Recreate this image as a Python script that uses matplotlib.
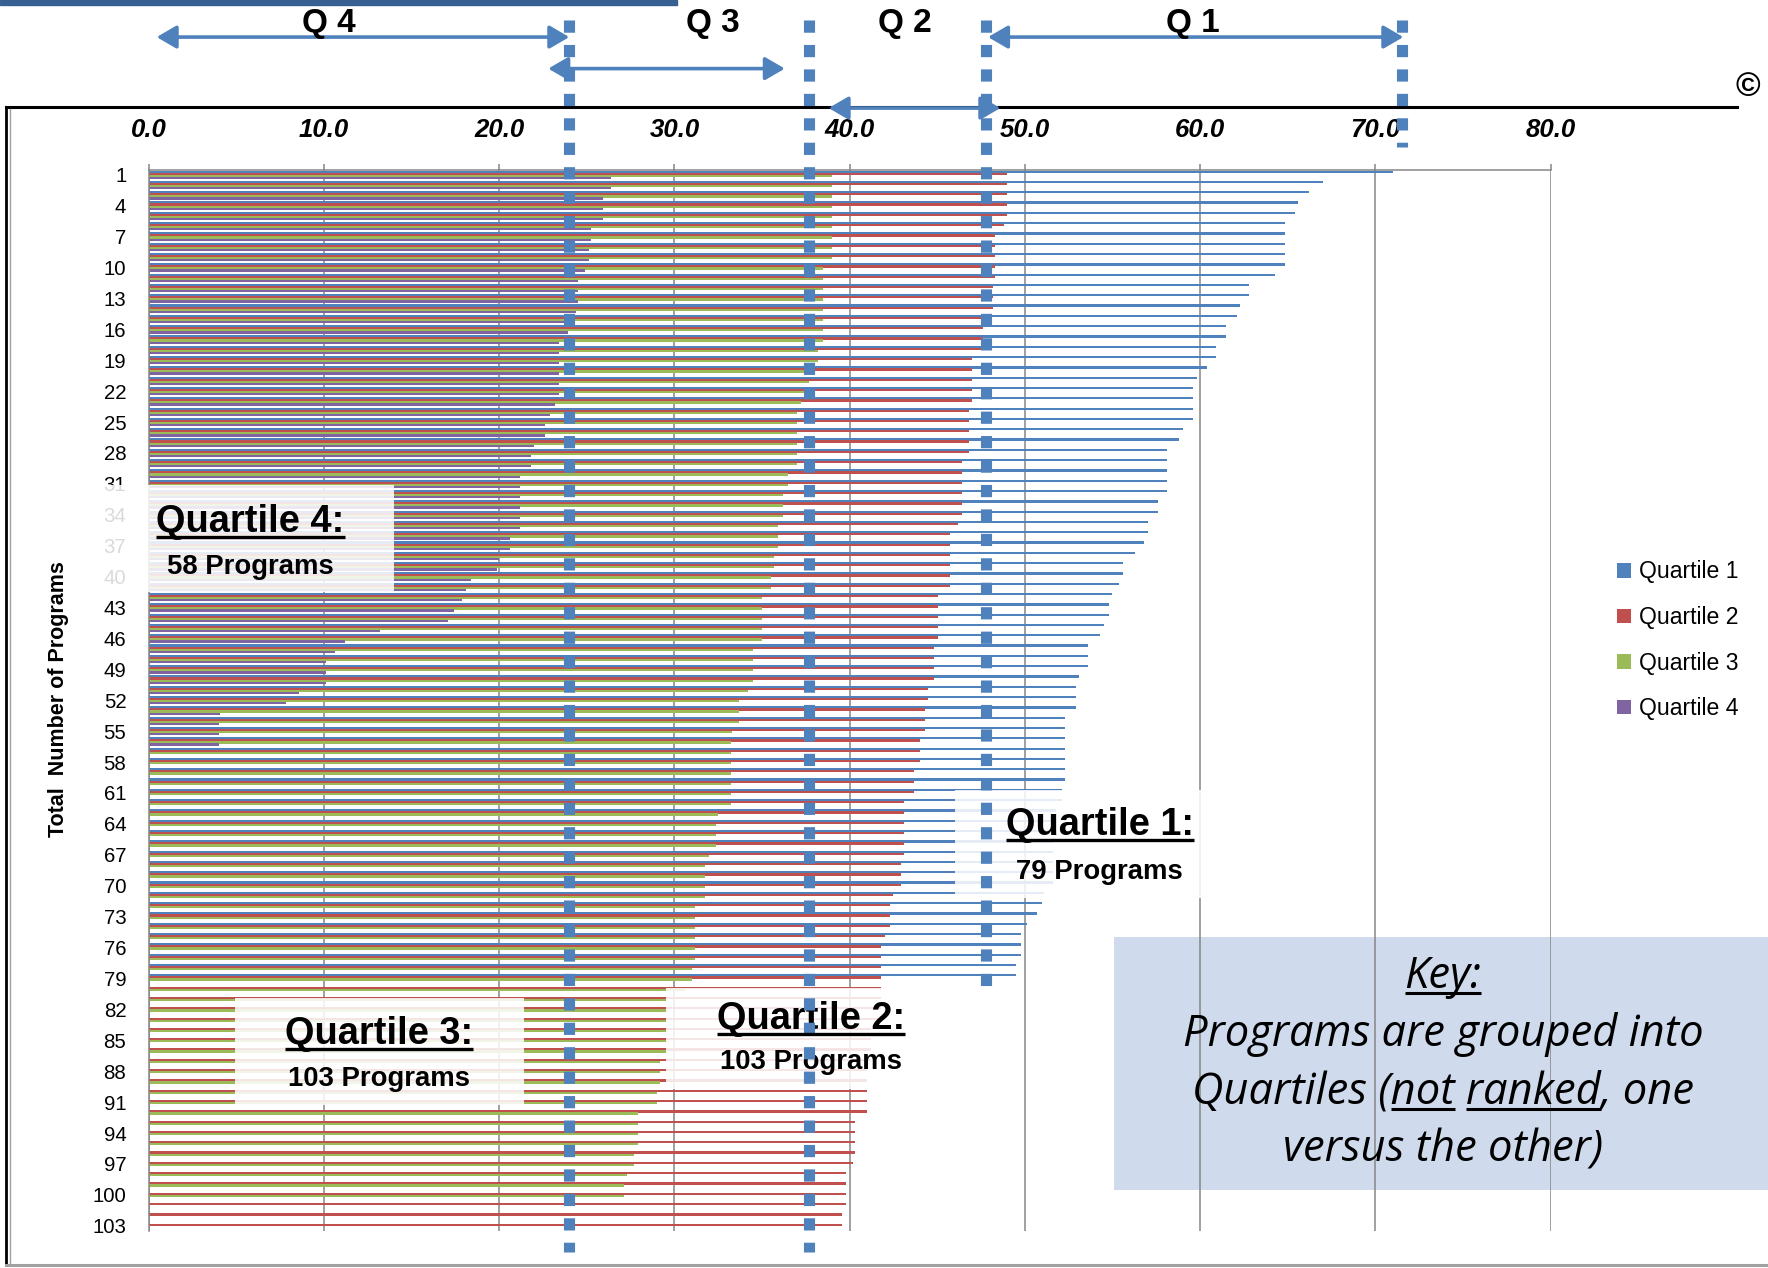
import numpy as np
import matplotlib
matplotlib.use("Agg")
import matplotlib.pyplot as plt
from matplotlib.patches import Rectangle, Patch
from matplotlib.lines import Line2D

plt.rcParams["font.family"] = ["Liberation Sans", "DejaVu Sans"]

# values, one entry per program, sorted high -> low
q1 = [71.0, 67.0, 66.2, 65.6, 65.4, 64.85, 64.85, 64.85, 64.85, 64.85,
      64.3, 62.8, 62.8, 62.3, 62.1, 61.5, 61.5, 60.9, 60.9, 60.4,
      59.8, 59.6, 59.6, 59.6, 59.6, 59.0, 58.8, 58.1, 58.1, 58.1,
      58.1, 58.1, 57.6, 57.6, 57.0, 57.0, 56.8, 56.3, 55.6, 55.6,
      55.4, 55.0, 54.8, 54.8, 54.5, 54.3, 53.6, 53.6, 53.6, 53.1,
      52.9, 52.9, 52.9, 52.3, 52.3, 52.3, 52.3, 52.3, 52.3, 52.3,
      52.1, 52.1, 51.8, 51.6, 51.6, 51.6, 51.6, 51.6, 51.6, 51.6,
      51.1, 51.0, 50.7, 50.1, 49.8, 49.8, 49.8, 49.5, 49.5]
q2 = [49.0, 49.0, 49.0, 49.0, 49.0, 48.8, 48.3, 48.3, 48.3, 48.3,
      48.3, 48.2, 48.2, 48.2, 47.8, 47.6, 47.6, 47.6, 47.0, 47.0,
      47.0, 47.0, 47.0, 46.8, 46.8, 46.8, 46.8, 46.8, 46.4, 46.4,
      46.4, 46.4, 46.4, 46.4, 46.2, 45.7, 45.7, 45.7, 45.7, 45.7,
      45.7, 45.05, 45.05, 45.05, 45.05, 45.05, 44.8, 44.8, 44.8, 44.8,
      44.5, 44.5, 44.3, 44.3, 44.3, 44.0, 44.0, 44.0, 43.7, 43.7,
      43.7, 43.1, 43.1, 43.1, 43.1, 43.1, 43.1, 42.95, 42.95, 42.95,
      42.5, 42.3, 42.3, 42.3, 42.0, 41.8, 41.8, 41.8, 41.8, 41.8,
      41.8, 41.8, 41.7, 41.2, 41.2, 41.2, 41.2, 41.0, 41.0, 41.0,
      41.0, 41.0, 40.3, 40.3, 40.3, 40.3, 40.2, 39.8, 39.8, 39.8,
      39.8, 39.55, 39.55]
q3 = [39.0, 39.0, 39.0, 39.0, 39.0, 39.0, 39.0, 39.0, 39.0, 38.5,
      38.5, 38.5, 38.5, 38.5, 38.5, 38.5, 38.5, 38.2, 38.2, 37.7,
      37.7, 37.7, 37.2, 37.0, 37.0, 37.0, 37.0, 37.0, 37.0, 36.5,
      36.5, 36.2, 36.2, 36.2, 35.9, 35.9, 35.9, 35.7, 35.7, 35.5,
      35.5, 35.0, 35.0, 35.0, 35.0, 35.0, 34.5, 34.5, 34.5, 34.5,
      34.2, 33.7, 33.7, 33.7, 33.3, 33.2, 33.2, 33.2, 33.2, 33.2,
      33.2, 33.2, 32.5, 32.4, 32.4, 32.4, 32.0, 31.75, 31.75, 31.75,
      31.75, 31.2, 31.2, 31.2, 31.2, 31.2, 31.2, 31.0, 31.0, 30.6,
      29.6, 29.6, 29.6, 29.6, 29.6, 29.6, 29.2, 29.2, 29.2, 29.0,
      29.0, 27.9, 27.9, 27.9, 27.9, 27.7, 27.7, 27.3, 27.1, 27.1]
q4 = [26.4, 26.4, 25.9, 25.9, 25.9, 25.25, 25.25, 25.1, 25.1, 24.9,
      24.5, 24.5, 24.5, 24.4, 23.9, 23.9, 23.4, 23.4, 23.4, 23.4,
      23.4, 23.4, 23.2, 22.9, 22.6, 22.6, 22.0, 21.8, 21.8, 21.2,
      21.2, 21.2, 21.2, 21.2, 21.2, 20.6, 20.6, 20.0, 19.9, 18.4,
      18.1, 17.9, 17.4, 17.1, 13.2, 11.2, 10.6, 10.1, 10.1, 10.1,
      8.6, 7.85, 4.05, 4.0, 4.0, 4.0]

series_names = ["Quartile 1", "Quartile 2", "Quartile 3", "Quartile 4"]
colors = ["#4F81BD", "#C0504D", "#9BBB59", "#8064A2"]
n_rows = 103
x_ticks = [0, 10, 20, 30, 40, 50, 60, 70, 80]

# quartile cut lines and the arrows above the chart
cut_x = [24.0, 37.7, 47.8, 71.5]
arrow_labels = ["Q 4", "Q 3", "Q 2", "Q 1"]
arrow_from = [0.45, 22.8, 38.8, 47.9]
arrow_to = [24.0, 36.3, 48.6, 71.6]
label_x = [10.25, 32.2, 43.15, 59.6]

notes = [("Quartile 4:", "58 Programs"), ("Quartile 1:", "79 Programs"),
         ("Quartile 3:", "103 Programs"), ("Quartile 2:", "103 Programs")]

BLUE = "#4F81BD"
GRID = "#868686"

fig = plt.figure(figsize=(17.68, 12.68), dpi=100)
ax = fig.add_axes([0.08416, 0.02926, 0.79282, 0.8370])
ax.set_facecolor("white")

offsets = [-0.3, -0.1, 0.1, 0.3]
for vals, col, name, off in zip([q1, q2, q3, q4], colors, series_names, offsets):
    y = np.arange(1, len(vals) + 1) + off
    ax.barh(y, vals, height=0.22, color=col, label=name, zorder=2, linewidth=0)

ax.set_xlim(0, 80)
ax.set_ylim(n_rows + 0.5, 0.5)
ax.set_xticks(x_ticks)
ax.set_xticklabels([f"{v:.1f}" for v in x_ticks], fontweight="bold",
                   fontstyle="italic")
ax.set_yticks(np.arange(1, n_rows + 1, 3))
ax.xaxis.tick_top()
ax.tick_params(axis="x", length=4.3, width=1.1, color=GRID, pad=15.5,
               labelsize=18.5)
ax.tick_params(axis="y", length=0, pad=16.2, labelsize=14.7)
ax.xaxis.grid(True, color=GRID, lw=1.1)
ax.set_axisbelow(True)
for side in ["right", "bottom"]:
    ax.spines[side].set_visible(False)
for side in ["top", "left"]:
    ax.spines[side].set_color(GRID)
    ax.spines[side].set_linewidth(1.1)

fig.text(0.03314, 0.4487, "Total  Number of Programs", rotation=90,
         fontsize=15.5, fontweight="bold", ha="center", va="center")

# white note boxes over the bars
boxes = [(-3.0, 14.0, 31.1, 41.5), (46.0, 60.3, 60.7, 71.2),
         (4.9, 21.4, 80.9, 91.3), (29.5, 46.1, 79.9, 89.7)]
note_pos = [(5.8, 34.7, 39.1), (54.27, 64.1, 68.7),
            (13.13, 84.4, 88.8), (37.78, 82.9, 87.1)]
title_texts = []
for (x0, x1, r0, r1), (tx, r_head, r_sub), (head, sub) in zip(boxes, note_pos, notes):
    ax.add_patch(Rectangle((x0, r0), x1 - x0, r1 - r0, facecolor="white",
                           edgecolor="none", alpha=0.86, zorder=4,
                           clip_on=False))
    t = ax.text(tx, r_head, head, ha="center", va="center", fontsize=27.4,
                fontweight="bold", zorder=5)
    title_texts.append(t)
    ax.text(tx, r_sub, sub, ha="center", va="center", fontsize=19.8,
            fontweight="bold", zorder=5)

# dashed quartile boundaries
cut_bottom = [105.5, 105.5, 80.4, -1.7]
for x, yb in zip(cut_x, cut_bottom):
    ax.plot([x, x], [-14.0, yb], color=BLUE, lw=8, linestyle=(0, (1.1, 1.1)),
            dash_capstyle="butt", clip_on=False, zorder=6)

arrow_rows = [-12.36, -9.3, -5.47, -12.36]
for lab, a0, a1, lx, r in zip(arrow_labels, arrow_from, arrow_to, label_x,
                              arrow_rows):
    ax.annotate("", xy=(a1, r), xytext=(a0, r), annotation_clip=False,
                arrowprops=dict(arrowstyle="<|-|>,head_length=0.6,head_width=0.35",
                                color=BLUE, lw=2.6, mutation_scale=20,
                                shrinkA=0, shrinkB=0), zorder=6)
    ax.text(lx, -13.7, lab, ha="center", va="center", fontsize=24,
            fontweight="bold", clip_on=False, zorder=6)

# legend
handles = [Patch(facecolor=c, edgecolor="none") for c in colors]
fig.legend(handles, series_names, loc="center left",
           bbox_to_anchor=(0.9146, 0.495), frameon=False, fontsize=16.6,
           handlelength=0.6, handleheight=0.6, handletextpad=0.35,
           labelspacing=0.98, borderpad=0, borderaxespad=0)

# key box
ax.add_patch(Rectangle((1114 / 1768, 1 - 1190 / 1268), 654 / 1768, 253 / 1268,
                       transform=fig.transFigure, facecolor="#CFDBEC",
                       edgecolor="none", zorder=0.2, clip_on=False))
key_font = dict(fontsize=31.3, fontstyle="italic", family="Open Sans",
                ha="center", va="center")
key_x = 0.8162
k0 = fig.text(key_x, 0.2299, "Key:", **key_font)
fig.text(key_x, 0.1838, "Programs are grouped into", **key_font)
k2 = fig.text(key_x, 0.1383, "Quartiles (not ranked, one", **key_font)
fig.text(key_x, 0.0931, "versus the other)", **key_font)

renderer = fig.canvas.get_renderer()


def underline(t, sub=None, off_px=4, lw=2.2):
    bb = t.get_window_extent(renderer)
    s = t.get_text()
    fp = t.get_fontproperties()
    x0, x1 = bb.x0, bb.x1
    if sub is not None:
        i = s.index(sub)
        w_full = renderer.get_text_width_height_descent(s[:i + len(sub)], fp, False)[0]
        w_sub = renderer.get_text_width_height_descent(sub, fp, False)[0]
        x1 = bb.x0 + w_full
        x0 = x1 - w_sub
    d = max(renderer.get_text_width_height_descent(s, fp, False)[2],
            renderer.get_text_width_height_descent("lp", fp, False)[2])
    y = bb.y0 + d - off_px
    inv = fig.transFigure.inverted()
    (fx0, fy), (fx1, _) = inv.transform([(x0, y), (x1, y)])
    fig.add_artist(Line2D([fx0, fx1], [fy, fy], color="black", lw=lw,
                          solid_capstyle="butt"))


for t in title_texts:
    underline(t, off_px=5, lw=2.4)
underline(k0, off_px=5, lw=2.2)
underline(k2, "not", off_px=5, lw=2.2)
underline(k2, "ranked", off_px=5, lw=2.2)

# outer frame and page bits, kept under the axes so the arrows sit on top
frame = [([0.0034, 0.9825], [0.91562, 0.91562], "black", 2.2),
         ([0.0034, 0.0034], [0.0024, 0.91562], "black", 2.0),
         ([0.0054, 0.0054], [0.0024, 0.9140], "#A0A0A0", 1.0),
         ([0.0034, 1.0], [0.0024, 0.0024], "#A0A0A0", 2.2)]
for xs, ys, c, lw in frame:
    fig.add_artist(Line2D(xs, ys, color=c, lw=lw, zorder=-1))
fig.add_artist(Rectangle((0, 1 - 5 / 1268), 677 / 1768, 5 / 1268,
                         transform=fig.transFigure, color="#376092"))
fig.text(1736 / 1768, 1 - 88 / 1268, "\u00a9", fontsize=24, fontweight="bold",
         ha="left", va="center")

fig.savefig("out.png", dpi=100)
